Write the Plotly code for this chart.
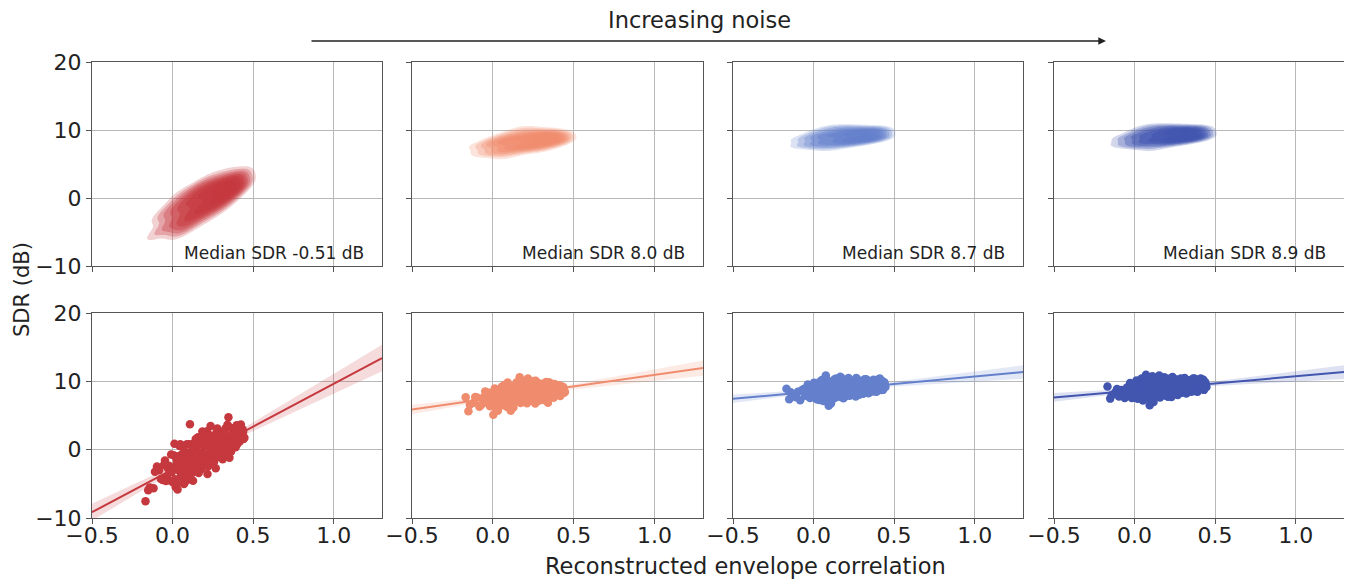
import numpy as np
import plotly.graph_objects as go

# ---------------- data ----------------
corr_x = [-0.168, -0.151, -0.118, -0.097, -0.083, -0.061, -0.047, -0.036, -0.028, -0.017,
          -0.009, 0.003, 0.012, 0.019, 0.026, 0.031, 0.038, 0.044, 0.052, 0.057,
          0.063, 0.071, 0.076, 0.083, 0.089, 0.094, 0.102, 0.108, 0.115, 0.121,
          0.127, 0.134, 0.141, 0.146, 0.153, 0.158, 0.166, 0.172, 0.179, 0.185,
          0.191, 0.198, 0.204, 0.211, 0.217, 0.223, 0.229, 0.236, 0.242, 0.249,
          0.255, 0.262, 0.268, 0.274, 0.281, 0.287, 0.293, 0.301, 0.308, 0.314,
          0.321, 0.327, 0.334, 0.341, 0.347, 0.353, 0.359, 0.366, 0.372, 0.379,
          0.385, 0.391, 0.398, 0.404, 0.411, 0.417, 0.424, 0.431, 0.438, 0.446,
          -0.142, -0.109, -0.072, -0.054, -0.041, -0.022, -0.004, 0.007, 0.015, 0.023,
          0.029, 0.035, 0.041, 0.048, 0.055, 0.061, 0.067, 0.073, 0.079, 0.086,
          0.092, 0.098, 0.105, 0.111, 0.118, 0.124, 0.131, 0.137, 0.144, 0.149,
          0.156, 0.162, 0.169, 0.175, 0.182, 0.188, 0.195, 0.201, 0.207, 0.214,
          0.220, 0.226, 0.233, 0.239, 0.246, 0.252, 0.258, 0.265, 0.271, 0.278,
          0.284, 0.290, 0.297, 0.304, 0.311, 0.317, 0.324, 0.330, 0.337, 0.344,
          0.350, 0.356, 0.363, 0.369, 0.376, 0.382, 0.388, 0.395, 0.401, 0.407,
          0.414, 0.421, 0.427, 0.434, 0.441, 0.181, 0.213, 0.247, 0.276, 0.302]

sdr_noise1 = [-7.55, -5.94, -5.64, -2.48, -3.01, -4.44, -1.57, -3.94, -2.74, -4.51,
              -0.71, -4.76, 0.85, -5.47, -1.48, -5.82, -2.24, 0.54, -3.87, -0.70,
              -3.03, -5.03, -1.37, -3.59, 0.79, -4.05, -1.26, 3.72, -2.60, -0.12,
              -4.55, 0.93, -1.58, -0.12, -2.93, 1.83, -1.57, 0.80, -2.82, 2.66,
              -0.77, 0.72, -1.81, 1.77, -3.55, 0.52, -1.11, 3.48, -0.55, 1.54,
              -1.69, 0.60, -2.73, 2.64, -0.27, 1.50, -0.83, 2.57, 0.56, 2.03,
              -0.98, 1.49, -0.03, 3.66, 4.73, -1.19, 2.08, 0.67, 3.14, 1.32,
              2.70, 0.37, 3.56, 1.33, 2.41, 1.19, 3.67, 1.86, 2.64, 1.74,
              -5.53, -3.23, -4.28, -2.26, -4.60, -2.37, -3.25, -0.81, -4.32, -2.22,
              -4.95, -0.97, -3.10, 0.79, -3.23, -1.26, -4.18, -0.21, -2.14, -4.55,
              -0.68, -3.00, 0.78, -2.15, -0.76, -3.39, 0.30, -2.23, 1.56, -1.38,
              -0.40, -3.42, 1.06, -1.97, -0.38, 1.89, -2.22, 0.45, -0.87, 2.71,
              -2.42, 1.16, -0.86, 2.02, -1.20, 0.67, -1.75, 2.03, 0.01, 3.09,
              -1.04, 1.44, -0.18, 2.21, -1.41, 1.27, 0.45, 3.13, -0.19, 2.00,
              1.17, 3.24, -0.27, 2.10, 0.79, 2.96, 1.53, 2.72, 0.79, 2.57,
              1.55, 3.24, 2.11, 2.99, 1.58, -1.59, 1.30, 1.01, 0.17, 1.18]

sdr_noise2 = [7.68, 5.64, 6.86, 7.64, 6.29, 7.57, 8.53, 6.87, 8.30, 6.34,
              7.67, 5.11, 8.94, 6.87, 8.20, 5.71, 7.74, 8.66, 6.49, 8.11,
              7.43, 9.46, 6.98, 8.51, 6.23, 8.05, 7.38, 9.20, 6.93, 8.55,
              6.17, 8.90, 7.92, 9.84, 7.47, 8.38, 10.61, 6.84, 8.96, 7.78,
              9.61, 7.33, 8.75, 6.78, 10.40, 8.13, 9.25, 7.27, 8.80, 7.72,
              10.04, 6.77, 8.69, 8.01, 9.74, 7.56, 9.18, 8.41, 9.64, 7.26,
              8.99, 7.91, 9.44, 6.86, 9.88, 8.41, 9.03, 7.85, 9.48, 8.30,
              9.22, 8.05, 9.07, 8.49, 9.42, 7.84, 8.77, 8.49, 9.02, 8.45,
              6.57, 7.70, 6.53, 7.70, 7.15, 8.32, 6.59, 7.83, 6.16, 8.69,
              7.21, 8.33, 6.65, 7.88, 9.20, 7.13, 8.25, 6.47, 8.69, 7.62,
              9.84, 7.06, 8.29, 5.71, 9.14, 7.56, 8.68, 6.91, 9.53, 7.85,
              8.98, 7.40, 10.23, 7.85, 8.67, 7.20, 9.32, 7.84, 8.97, 10.19,
              7.41, 8.64, 8.06, 9.68, 7.21, 9.03, 7.95, 10.08, 7.70, 8.93,
              7.15, 9.57, 8.50, 9.42, 7.95, 8.87, 7.60, 9.92, 8.45, 9.27,
              8.00, 9.72, 8.44, 8.97, 7.59, 9.61, 8.74, 9.36, 8.38, 9.31,
              8.13, 9.26, 8.68, 9.21, 8.33, 9.17, 7.69, 8.61, 8.32, 9.12]

sdr_noise3 = [8.93, 7.37, 7.94, 8.49, 7.22, 8.87, 8.00, 9.52, 7.74, 8.76,
              8.28, 9.81, 7.53, 9.14, 8.06, 9.47, 7.28, 8.70, 10.21, 8.03,
              9.04, 7.76, 10.87, 8.48, 9.40, 6.41, 8.92, 6.74, 9.75, 8.07,
              9.28, 7.59, 10.41, 8.52, 9.64, 7.95, 10.67, 8.78, 9.39, 7.51,
              10.12, 8.44, 9.25, 8.16, 10.48, 7.89, 9.60, 8.72, 10.03, 8.35,
              9.26, 7.78, 10.39, 8.70, 9.62, 8.23, 9.94, 8.96, 8.18, 9.59,
              8.61, 10.32, 8.93, 8.25, 9.86, 8.88, 9.49, 8.51, 10.22, 8.83,
              9.65, 8.46, 9.88, 9.19, 10.40, 8.82, 9.53, 8.75, 9.86, 9.18,
              8.39, 7.66, 8.74, 7.88, 9.11, 7.55, 8.79, 8.12, 9.53, 7.35,
              9.06, 8.38, 9.99, 7.81, 8.82, 7.13, 9.45, 8.26, 10.37, 7.69,
              9.10, 8.52, 9.93, 7.14, 9.36, 8.27, 10.29, 7.90, 9.12, 8.63,
              9.94, 7.76, 9.47, 10.49, 8.40, 9.11, 7.73, 9.84, 8.66, 10.27,
              8.28, 9.40, 8.01, 10.03, 8.74, 9.65, 8.27, 10.48, 9.00, 9.61,
              8.02, 10.04, 8.75, 9.47, 8.48, 10.30, 9.01, 9.73, 8.34, 10.06,
              8.97, 9.68, 8.70, 10.01, 9.23, 8.54, 9.85, 9.07, 10.28, 8.90,
              9.61, 8.73, 10.04, 9.25, 9.77, 9.50, 8.57, 9.24, 8.61, 9.26]

sdr_noise4 = [9.23, 7.47, 8.44, 7.79, 8.72, 7.57, 9.10, 8.32, 9.74, 7.56,
              8.98, 8.11, 10.13, 7.44, 8.86, 9.57, 7.98, 10.40, 7.21, 9.23,
              8.44, 10.96, 7.97, 9.58, 8.70, 6.51, 9.92, 7.04, 9.15, 8.27,
              10.28, 7.89, 9.51, 8.62, 10.84, 7.65, 9.17, 9.98, 8.39, 10.61,
              7.92, 9.44, 8.65, 10.36, 8.18, 9.79, 7.70, 10.62, 8.93, 9.65,
              8.36, 10.18, 7.99, 9.50, 8.72, 10.43, 8.34, 9.86, 8.98, 10.19,
              8.21, 9.52, 8.73, 10.15, 9.16, 8.48, 9.89, 9.01, 10.42, 8.73,
              9.55, 8.46, 10.08, 9.19, 10.40, 9.02, 9.73, 8.75, 9.86, 9.18,
              7.99, 8.86, 7.84, 8.78, 8.31, 9.35, 7.59, 9.12, 8.33, 9.85,
              7.56, 9.08, 8.19, 9.61, 8.62, 10.33, 7.85, 9.06, 8.37, 10.09,
              7.40, 9.42, 8.63, 10.74, 6.96, 9.07, 8.29, 10.00, 8.62, 9.63,
              7.74, 10.46, 8.57, 9.39, 8.20, 10.21, 8.93, 9.64, 7.76, 10.07,
              8.58, 9.30, 10.51, 8.43, 9.64, 8.95, 10.27, 8.18, 9.50, 8.81,
              10.12, 8.44, 9.45, 8.97, 10.48, 8.70, 9.81, 8.43, 10.14, 9.16,
              9.67, 8.68, 10.40, 9.01, 10.03, 8.54, 9.65, 9.17, 10.28, 8.90,
              9.91, 9.33, 10.24, 9.05, 9.67, 9.50, 8.77, 9.94, 8.61, 9.46]

median_labels = ["Median SDR -0.51 dB", "Median SDR 8.0 dB",
                 "Median SDR 8.7 dB", "Median SDR 8.9 dB"]
panel_rgb = [(197, 56, 62), (240, 140, 110), (100, 128, 204), (66, 86, 176)]
x_tick_vals = [-0.5, 0.0, 0.5, 1.0]
y_tick_vals = [-10, 0, 10, 20]
x_range = [-0.5, 1.3]
y_range = [-10, 20]
title_text = "Increasing noise"
x_title = "Reconstructed envelope correlation"
y_title = "SDR (dB)"

# ---------------- layout geometry (pixels, as seen on the page) ----------------
W, H = 1352, 581
OFF = 8  # page body margin shifts the figure by 8 px
col_px = [(92, 382), (412, 703), (733, 1023), (1054, 1344)]
row_px = [(62, 266), (313, 518)]
FONT = "DejaVu Sans"


def px(xp):
    return (xp - OFF) / W


def py(yp):
    return 1 - (yp - OFF) / H


def dom_x(a, b):
    return [px(a), px(b)]


def dom_y(a, b):
    return [py(b), py(a)]


def kde_grid(x, y, gx, gy):
    data = np.vstack([x, y])
    n = data.shape[1]
    cov = np.cov(data) * n ** (-2.0 / 6.0)  # Scott's rule, 2-D
    inv = np.linalg.inv(cov)
    X, Y = np.meshgrid(gx, gy)
    pts = np.stack([X.ravel(), Y.ravel()])
    diff = pts[:, :, None] - data[:, None, :]
    q = np.einsum("ign,ij,jgn->gn", diff, inv, diff)
    z = np.exp(-0.5 * q).sum(axis=1)
    return z.reshape(X.shape)


def rgba(c, a):
    return f"rgba({c[0]},{c[1]},{c[2]},{a})"


def axid(k):
    return "" if k == 1 else str(k)


fig = go.Figure()
series = [sdr_noise1, sdr_noise2, sdr_noise3, sdr_noise4]
xs = np.array(corr_x)
gx = np.linspace(x_range[0], x_range[1], 181)
gy = np.linspace(y_range[0], y_range[1], 241)

for c in range(4):
    ys = np.array(series[c])
    col = panel_rgb[c]
    kt = c + 1
    kb = c + 5

    # ---- top row: density contours ----
    z = kde_grid(xs, ys, gx, gy)
    zmax = float(z.max())
    step = zmax / 10.0
    fig.add_trace(go.Contour(
        x=gx, y=gy, z=z, xaxis="x" + axid(kt), yaxis="y" + axid(kt),
        zmin=0, zmax=zmax, zauto=False, autocontour=False,
        contours=dict(start=step, end=zmax, size=step, coloring="fill", showlines=False),
        line=dict(width=0, smoothing=1.3),
        colorscale=[[0, rgba(col, 0)], [0.1, rgba(col, 0)], [0.15, rgba(col, 0.22)],
                    [0.5, rgba(col, 0.4)], [1, rgba(col, 0.8)]],
        showscale=False, hoverinfo="skip"))

    # ---- bottom row: regression ----
    slope, icpt = np.polyfit(xs, ys, 1)
    n = len(xs)
    xm = xs.mean()
    resid = ys - (icpt + slope * xs)
    s = np.sqrt((resid ** 2).sum() / (n - 2))
    sxx = ((xs - xm) ** 2).sum()
    lx = np.linspace(x_range[0], x_range[1], 100)
    ly = icpt + slope * lx
    se = s * np.sqrt(1.0 / n + (lx - xm) ** 2 / sxx)
    t = 1.975
    fig.add_trace(go.Scatter(
        x=np.concatenate([lx, lx[::-1]]),
        y=np.concatenate([ly + t * se, (ly - t * se)[::-1]]),
        fill="toself", fillcolor=rgba(col, 0.18), line=dict(width=0),
        mode="lines", hoverinfo="skip", showlegend=False,
        xaxis="x" + axid(kb), yaxis="y" + axid(kb)))
    fig.add_trace(go.Scatter(
        x=lx, y=ly, mode="lines", line=dict(color=rgba(col, 1), width=2),
        hoverinfo="skip", showlegend=False,
        xaxis="x" + axid(kb), yaxis="y" + axid(kb)))
    fig.add_trace(go.Scatter(
        x=xs, y=ys, mode="markers",
        marker=dict(color=rgba(col, 1), size=8.5, line=dict(width=0)),
        showlegend=False, xaxis="x" + axid(kb), yaxis="y" + axid(kb)))

# ---------------- axes ----------------
axis_common = dict(showgrid=True, gridcolor="#b8b8b8", gridwidth=1,
                   showline=True, linecolor="#555", linewidth=1, mirror=True,
                   ticks="outside", ticklen=5, tickcolor="#555", tickwidth=1,
                   zeroline=False, fixedrange=True, automargin=False,
                   tickfont=dict(family=FONT, size=22, color="#222"))
layout_axes = {}
for r in range(2):
    for c in range(4):
        k = r * 4 + c + 1
        layout_axes["xaxis" + axid(k)] = dict(
            axis_common, domain=dom_x(*col_px[c]), anchor="y" + axid(k),
            range=x_range, tickvals=x_tick_vals, tickformat=".1f",
            showticklabels=(r == 1), ticklabelstandoff=-7)
        layout_axes["yaxis" + axid(k)] = dict(
            axis_common, domain=dom_y(*row_px[r]), anchor="x" + axid(k),
            range=y_range, tickvals=y_tick_vals,
            showticklabels=(c == 0))

annotations = []
for c in range(4):
    annotations.append(dict(
        text=median_labels[c], xref="x" + axid(c + 1) + " domain",
        yref="y" + axid(c + 1) + " domain", x=0.945, y=0.065,
        xanchor="right", yanchor="middle", showarrow=False,
        font=dict(family=FONT, size=17, color="#222")))

annotations.append(dict(text=title_text, xref="paper", yref="paper",
                        x=px(700), y=py(20), xanchor="center", yanchor="middle",
                        showarrow=False, font=dict(family=FONT, size=22.5, color="#222")))
annotations.append(dict(text="", xref="paper", yref="paper",
                        x=px(1106), y=py(41), ax=-(1106 - 310), ay=0,
                        showarrow=True, arrowhead=2, arrowsize=1.1, arrowwidth=1.4,
                        arrowcolor="#222", standoff=0))
annotations.append(dict(text=x_title, xref="paper", yref="paper",
                        x=px(745), y=py(566), xanchor="center", yanchor="middle",
                        showarrow=False, font=dict(family=FONT, size=22.5, color="#222")))
annotations.append(dict(text=y_title, xref="paper", yref="paper",
                        x=px(22), y=py(290), xanchor="center", yanchor="middle",
                        textangle=-90, showarrow=False,
                        font=dict(family=FONT, size=21, color="#222")))

fig.update_layout(
    width=W, height=H, margin=dict(l=0, r=0, t=0, b=0, autoexpand=False),
    paper_bgcolor="white", plot_bgcolor="white", showlegend=False,
    annotations=annotations, **layout_axes)

fig.write_html("out.html")
